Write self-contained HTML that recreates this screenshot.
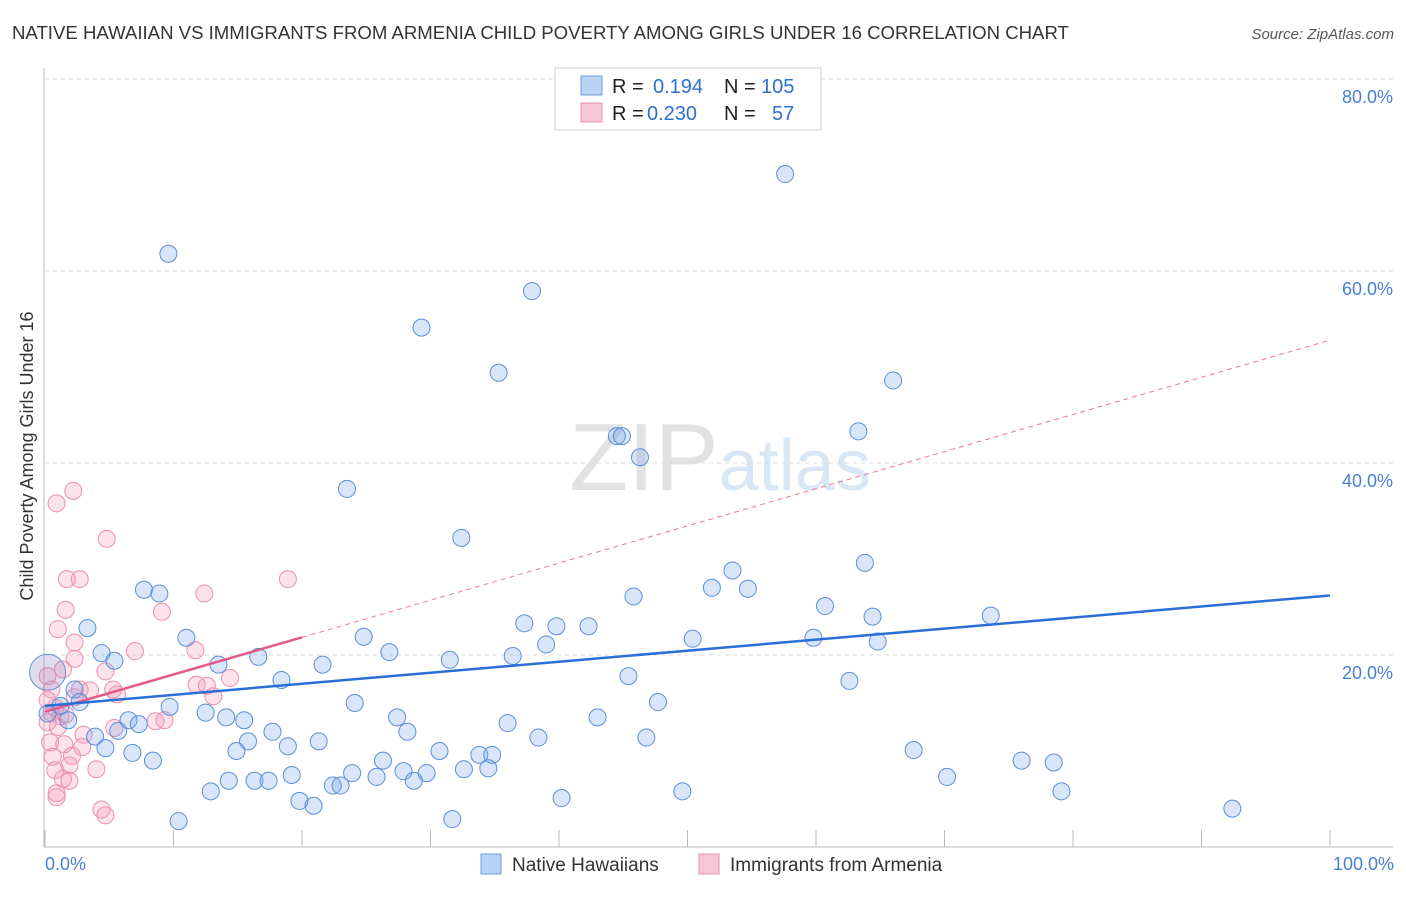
<!DOCTYPE html>
<html><head><meta charset="utf-8"><style>
body{margin:0;background:#fff;font-family:"Liberation Sans",sans-serif}
svg text{font-family:"Liberation Sans",sans-serif}
</style></head><body>
<svg id="chart" width="1406" height="892" viewBox="0 0 1406 892" xmlns="http://www.w3.org/2000/svg">
<text x="12" y="39" font-size="18.6" fill="#333">NATIVE HAWAIIAN VS IMMIGRANTS FROM ARMENIA CHILD POVERTY AMONG GIRLS UNDER 16 CORRELATION CHART</text>
<text x="1394" y="39" font-size="15" fill="#555" text-anchor="end" font-style="italic">Source: ZipAtlas.com</text>
<text x="720" y="490" font-size="96" text-anchor="middle" font-family="Liberation Serif"><tspan fill="#e2e2e2">ZIP</tspan><tspan fill="#d9e6f5" font-family="Liberation Sans" font-size="72">atlas</tspan></text>
<g id="grid"></g>
<g id="axes"></g>
<g id="marks"></g>
<text transform="translate(33,456) rotate(-90)" font-size="18" fill="#333" text-anchor="middle">Child Poverty Among Girls Under 16</text>
<text x="45" y="870" font-size="18" fill="#4a7fd4">0.0%</text>
<text x="1394" y="870" font-size="18" fill="#4a7fd4" text-anchor="end">100.0%</text>
<g>
<rect x="555" y="68" width="266" height="62" fill="#fff" stroke="#ccc"/>
<rect x="581" y="76" width="21" height="19" fill="#b9d3f5" stroke="#6a9be0"/>
<rect x="581" y="103" width="21" height="19" fill="#f9c6d6" stroke="#ec8fae"/>
<text x="612" y="93" font-size="20" fill="#222">R = </text><text x="653" y="93" font-size="20" fill="#2f6fd0">0.194</text>
<text x="724" y="93" font-size="20" fill="#222">N = </text><text x="761" y="93" font-size="20" fill="#2f6fd0">105</text>
<text x="612" y="120" font-size="20" fill="#222">R = </text><text x="647" y="120" font-size="20" fill="#2f6fd0">0.230</text>
<text x="724" y="120" font-size="20" fill="#222">N = </text><text x="772" y="120" font-size="20" fill="#2f6fd0">57</text>
</g>
<g>
<rect x="481" y="854" width="20" height="20" fill="#b9d3f5" stroke="#6a9be0"/>
<text x="512" y="871" font-size="19" fill="#333">Native Hawaiians</text>
<rect x="699" y="854" width="20" height="20" fill="#f9c6d6" stroke="#ec8fae"/>
<text x="730" y="871" font-size="19" fill="#333">Immigrants from Armenia</text>
</g>
</svg>
<script>
const yTicks=[20,40,60,80];
const yTickLabels=["20.0%","40.0%","60.0%","80.0%"];
const xTicks=[0,10,20,30,40,50,60,70,80,90,100];
const blueX=[9.6,57.6,37.9,29.3,35.3,66.0,44.5,44.9,63.3,46.3,23.5,32.4,7.7,8.9,53.5,63.8,51.9,54.7,45.8,60.7,73.6,64.4,37.3,39.8,42.3,3.3,11.0,24.8,50.4,59.8,39.0,64.8,4.4,5.4,26.8,16.6,31.5,36.4,13.5,21.6,18.4,45.4,62.6,2.3,2.7,1.2,24.1,47.7,9.7,12.5,14.1,27.4,43.0,1.8,6.5,15.5,7.3,36.0,5.7,17.7,28.2,3.9,21.3,15.8,38.4,46.8,18.9,4.7,6.8,14.9,30.7,33.8,34.8,8.4,26.3,67.6,76.0,78.5,27.9,29.7,32.6,34.5,23.9,25.8,19.2,14.3,16.3,17.4,28.7,22.4,23.0,70.2,12.9,49.6,79.1,19.8,20.9,40.2,92.4,10.4,31.7,0.2];
const blueY=[61.8,70.1,57.9,54.1,49.4,48.6,42.8,42.8,43.3,40.6,37.3,32.2,26.8,26.4,28.8,29.6,27.0,26.9,26.1,25.1,24.1,24.0,23.3,23.0,23.0,22.8,21.8,21.9,21.7,21.8,21.1,21.4,20.2,19.4,20.3,19.8,19.5,19.9,19.0,19.0,17.4,17.8,17.3,16.4,15.1,14.7,15.0,15.1,14.6,14.0,13.5,13.5,13.5,13.2,13.2,13.2,12.8,12.9,12.1,12.0,12.0,11.5,11.0,11.0,11.4,11.4,10.5,10.3,9.8,10.0,10.0,9.6,9.6,9.0,9.0,10.1,9.0,8.8,7.9,7.7,8.1,8.2,7.7,7.3,7.5,6.9,6.9,6.9,6.9,6.4,6.4,7.3,5.8,5.8,5.8,4.8,4.3,5.1,4.0,2.7,2.9,13.9];
const bigBlue=[0.2,18.2];
const pinkX=[0.9,2.2,4.8,1.7,2.7,18.9,12.4,1.6,9.1,1.0,2.3,11.7,7.0,2.3,1.4,4.7,0.2,2.7,3.5,5.6,13.1,11.8,12.6,14.4,2.3,0.5,1.2,0.8,1.6,9.3,8.6,5.4,1.0,0.2,0.4,1.5,0.6,2.1,2.9,1.9,0.8,4.0,1.4,1.9,0.9,0.9,4.4,4.7,0.2,0.5,5.3,3.0];
const pinkY=[35.8,37.1,32.1,27.9,27.9,27.9,26.4,24.7,24.5,22.7,21.3,20.5,20.4,19.6,18.5,18.3,17.8,16.4,16.3,15.9,15.7,16.9,16.8,17.6,15.6,14.0,13.6,14.5,13.8,13.2,13.1,12.4,12.5,13.0,10.9,10.7,9.4,9.5,10.4,8.5,8.0,8.1,7.1,6.9,5.6,5.2,3.9,3.3,15.3,16.4,16.4,11.7];
const blueTrend=[14.7,26.2];
const pinkTrend=[14.1,52.8];
const pinkSolidEnd=20;

const NS="http://www.w3.org/2000/svg";
const X0=45,X1=1330,Y0=847,PX=9.6;
function sx(v){return X0+(X1-X0)*v/100;}
function sy(v){return Y0-v*PX;}
function mk(tag,attrs,parent){const e=document.createElementNS(NS,tag);for(const k in attrs)e.setAttribute(k,attrs[k]);parent.appendChild(e);return e;}
const grid=document.getElementById('grid'),axes=document.getElementById('axes'),marks=document.getElementById('marks');
yTicks.forEach((t,i)=>{
 const l=mk('line',{x1:45,x2:1393,y1:sy(t),y2:sy(t),stroke:'#ddd','stroke-dasharray':'4,4'},grid);
 
 
 const tx=mk('text',{x:1393,y:sy(t)+24,'font-size':18,fill:'#4a7fd4','text-anchor':'end'},axes);
 tx.textContent=yTickLabels[i];
 
 
});
const ya=mk('line',{x1:44,x2:44,y1:68,y2:Y0,stroke:'#bbb'},axes);


const xa=mk('line',{x1:44,x2:1393,y1:Y0,y2:Y0,stroke:'#bbb'},axes);


xTicks.forEach(t=>{
 const l=mk('line',{x1:sx(t),x2:sx(t),y1:830,y2:Y0,stroke:'#bbb'},axes);
 
 
});
pinkX.forEach((x,i)=>{
 const c=mk('circle',{cx:sx(x),cy:sy(pinkY[i]),r:8.5,fill:'rgba(243,150,180,0.28)',stroke:'#ec8fae','stroke-width':1},marks);
 
 
});
blueX.forEach((x,i)=>{
 const c=mk('circle',{cx:sx(x),cy:sy(blueY[i]),r:8.5,fill:'rgba(120,165,235,0.28)',stroke:'#5b8fd9','stroke-width':1},marks);
 
 
});
const bb=mk('circle',{cx:sx(bigBlue[0]),cy:sy(bigBlue[1]),r:18,fill:'rgba(150,140,200,0.3)',stroke:'#6a8fd6'},marks);


const ps=pinkTrend[0]+(pinkTrend[1]-pinkTrend[0])*pinkSolidEnd/100;
const pd=mk('line',{x1:sx(pinkSolidEnd),y1:sy(ps),x2:sx(100),y2:sy(pinkTrend[1]),stroke:'#e97a9f','stroke-width':1,'stroke-dasharray':'5,4'},marks);


const pl=mk('line',{x1:sx(0),y1:sy(pinkTrend[0]),x2:sx(pinkSolidEnd),y2:sy(ps),stroke:'#e35a8a','stroke-width':2.5},marks);


const bl=mk('line',{x1:sx(0),y1:sy(blueTrend[0]),x2:sx(100),y2:sy(blueTrend[1]),stroke:'#2a6fd6','stroke-width':2.5},marks);


</script>
</body></html>
